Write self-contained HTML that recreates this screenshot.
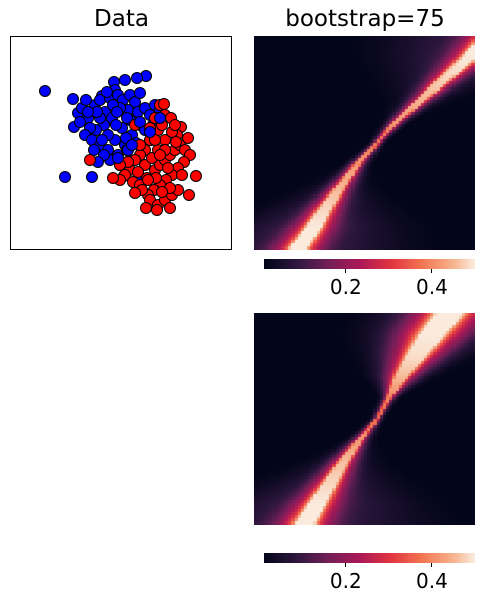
<!DOCTYPE html>
<html><head><meta charset="utf-8">
<style>
body{margin:0;background:#fff;width:484px;height:603px;overflow:hidden;position:relative;font-family:"DejaVu Sans","Liberation Sans",sans-serif}
.t{position:absolute;font-size:23px;color:#000;text-align:center;line-height:1}
.tk{position:absolute;font-size:20px;color:#000;line-height:1;transform:translateX(-50%)}
canvas,svg{position:absolute}
</style></head><body>
<div class="t" style="left:11px;width:221px;top:8px">Data</div>
<div class="t" style="left:254px;width:222px;top:8px">bootstrap=75</div>
<svg id="sc" style="left:10px;top:36px" width="222" height="215"></svg>
<canvas id="h1" style="left:254px;top:36px" width="221" height="214"></canvas>
<canvas id="c1" style="left:264px;top:259px" width="211" height="10"></canvas>
<canvas id="h2" style="left:254px;top:313px" width="221" height="212"></canvas>
<canvas id="c2" style="left:264px;top:553px" width="211" height="10"></canvas>
<div id="ticks"></div>
<script>
// scatter data (page px units; axes map to box)
const blueX=[45,65,92,146,137,114,125,115,102,73,78,74,82,88,95,100,105,110,118,123,130,135,128,120,112,104,96,90,85,92,100,108,115,122,130,138,145,150,155,160,140,132,125,118,110,104,98,120,130,108,100,116,126,136,145,153,158,113,107,97,86,80,94,140,117,102,127,88,142,151,140,124];
const blueY=[91,177,177,76,78,82,80,90,96,99,113,127,108,118,105,100,112,98,95,100,95,102,110,108,118,125,130,128,135,140,145,150,140,128,120,112,108,115,105,110,125,135,145,155,160,155,162,165,160,135,118,125,138,143,130,125,118,105,92,112,100,122,150,93,112,140,118,112,150,140,180,176];
const redX=[160,164,181,177,165,158,150,145,140,135,130,125,120,133,140,147,155,160,165,170,175,180,185,190,184,178,172,166,160,154,148,142,150,158,165,172,178,170,162,145,152,158,165,172,176,168,156,138,128,120,140,150,162,171,157,170,189,196,90,146,135,182,188,113,155,175,165,148,160,127,135,155];
const redY=[105,104,127,135,115,130,140,150,155,160,170,175,180,182,185,178,170,165,160,155,150,145,150,155,162,168,175,180,185,190,195,190,200,205,200,195,190,188,192,165,158,150,140,132,142,168,178,172,162,165,145,128,125,118,210,208,195,176,160,208,193,175,138,178,140,125,150,180,155,150,125,118];
const blueTopX=[118,128,140,150,160,132];
const blueTopY=[158,150,122,132,118,145];
// heatmap band profiles, sampled every 10% of height (top to bottom)
const rowY=[0,0.1,0.2,0.3,0.4,0.5,0.6,0.7,0.8,0.9,1.0];
const h1Center=[1.07,0.98,0.87,0.76,0.65,0.56,0.47,0.40,0.33,0.27,0.20];
const h1Core=[0.025,0.022,0.018,0.013,0.009,0.006,0.009,0.013,0.018,0.022,0.025];
const h1Glow=[0.3,0.25,0.18,0.1,0.05,0.02,0.05,0.1,0.18,0.25,0.3];
const h1Peak=[0.5,0.5,0.48,0.45,0.42,0.38,0.42,0.45,0.48,0.5,0.5];
const h2Center=[0.89,0.81,0.74,0.67,0.615,0.56,0.48,0.41,0.35,0.29,0.23];
const h2Core=[0.04,0.037,0.03,0.02,0.007,0.005,0.009,0.015,0.02,0.024,0.028];
const h2Glow=[0.22,0.2,0.16,0.1,0.03,0.03,0.06,0.12,0.2,0.28,0.34];
const h2Peak=[0.5,0.5,0.49,0.46,0.4,0.36,0.42,0.46,0.48,0.5,0.5];
const cbMin=0.01, cbMax=0.5;
const tickVals=[0.2,0.4];
const tickLabels=["0.2","0.4"];

const NS="http://www.w3.org/2000/svg";
const sc=document.getElementById('sc');
const sx=v=>v-10, sy=v=>v-36;
function dot(x,y,c){const e=document.createElementNS(NS,'circle');


e.setAttribute('cx',sx(x));e.setAttribute('cy',sy(y));e.setAttribute('r',5.5);e.setAttribute('fill',c);e.setAttribute('stroke','#000');e.setAttribute('stroke-width',1);sc.appendChild(e);}
for(let i=0;i<blueX.length;i++)dot(blueX[i],blueY[i],'#0000ff');
for(let i=0;i<redX.length;i++)dot(redX[i],redY[i],'#ff0000');
for(let i=0;i<blueTopX.length;i++)dot(blueTopX[i],blueTopY[i],'#0000ff');
const fr=document.createElementNS(NS,'rect');


fr.setAttribute('x',0.5);fr.setAttribute('y',0.5);fr.setAttribute('width',221);fr.setAttribute('height',213);fr.setAttribute('fill','none');fr.setAttribute('stroke','#000');sc.appendChild(fr);

const stops=[[0,3,5,26],[0.15,45,23,61],[0.3,112,31,87],[0.45,170,24,88],[0.6,225,52,66],[0.75,243,118,81],[0.9,246,180,143],[1,250,235,221]];
function cmap(t){t=Math.max(0,Math.min(1,t));for(let i=1;i<stops.length;i++){if(t<=stops[i][0]){const a=stops[i-1],b=stops[i],f=(t-a[0])/(b[0]-a[0]);return [a[1]+f*(b[1]-a[1]),a[2]+f*(b[2]-a[2]),a[3]+f*(b[3]-a[3])];}}return stops[7].slice(1);}
function interp(arr,y){const p=y*10,i=Math.min(9,Math.floor(p)),f=p-i;return arr[i]+f*(arr[i+1]-arr[i]);}
function heat(id,C,W,G,P){const cv=document.getElementById(id),ctx=cv.getContext('2d'),w=cv.width,h=cv.height,n=70;
const cw=w/n,ch=h/n;
for(let r=0;r<n;r++){const y=(r+0.5)/n,c=interp(C,y),core=interp(W,y),glow=interp(G,y),pk=interp(P,y);
const fan=Math.min(1,Math.abs(y-0.5)*2.5);
for(let k=0;k<n;k++){const x=(k+0.5)/n,d=Math.abs(x-c);
let v=pk*Math.exp(-(d*d)/(2*core*core))+0.55*pk*Math.exp(-(d*d)/(2*9*core*core))+0.1*Math.exp(-(d*d)/(2*glow*glow))*fan;
v=Math.min(v,pk);
const col=cmap((v-cbMin)/(cbMax-cbMin));ctx.fillStyle='rgb('+col.map(Math.round).join(',')+')';
ctx.fillRect(Math.floor(k*cw),Math.floor(r*ch),Math.ceil(cw)+1,Math.ceil(ch)+1);}}}
heat('h1',h1Center,h1Core,h1Glow,h1Peak);
heat('h2',h2Center,h2Core,h2Glow,h2Peak);
function cbar(id,top){const cv=document.getElementById(id),ctx=cv.getContext('2d');
for(let i=0;i<cv.width;i++){const col=cmap(i/(cv.width-1));ctx.fillStyle='rgb('+col.map(Math.round).join(',')+')';ctx.fillRect(i,0,1,cv.height);}
const tk=document.getElementById('ticks');
tickVals.forEach((v,j)=>{const x=264+(v-cbMin)/(cbMax-cbMin)*211;
const m=document.createElement('div');


m.style.cssText='position:absolute;left:'+(x-0.5)+'px;top:'+(top+10)+'px;width:1px;height:4px;background:#000';tk.appendChild(m);
const l=document.createElement('div');


l.className='tk';l.style.left=x+'px';l.style.top=(top+18)+'px';l.textContent=tickLabels[j];tk.appendChild(l);});}
cbar('c1',259);cbar('c2',553);
</script>
</body></html>
